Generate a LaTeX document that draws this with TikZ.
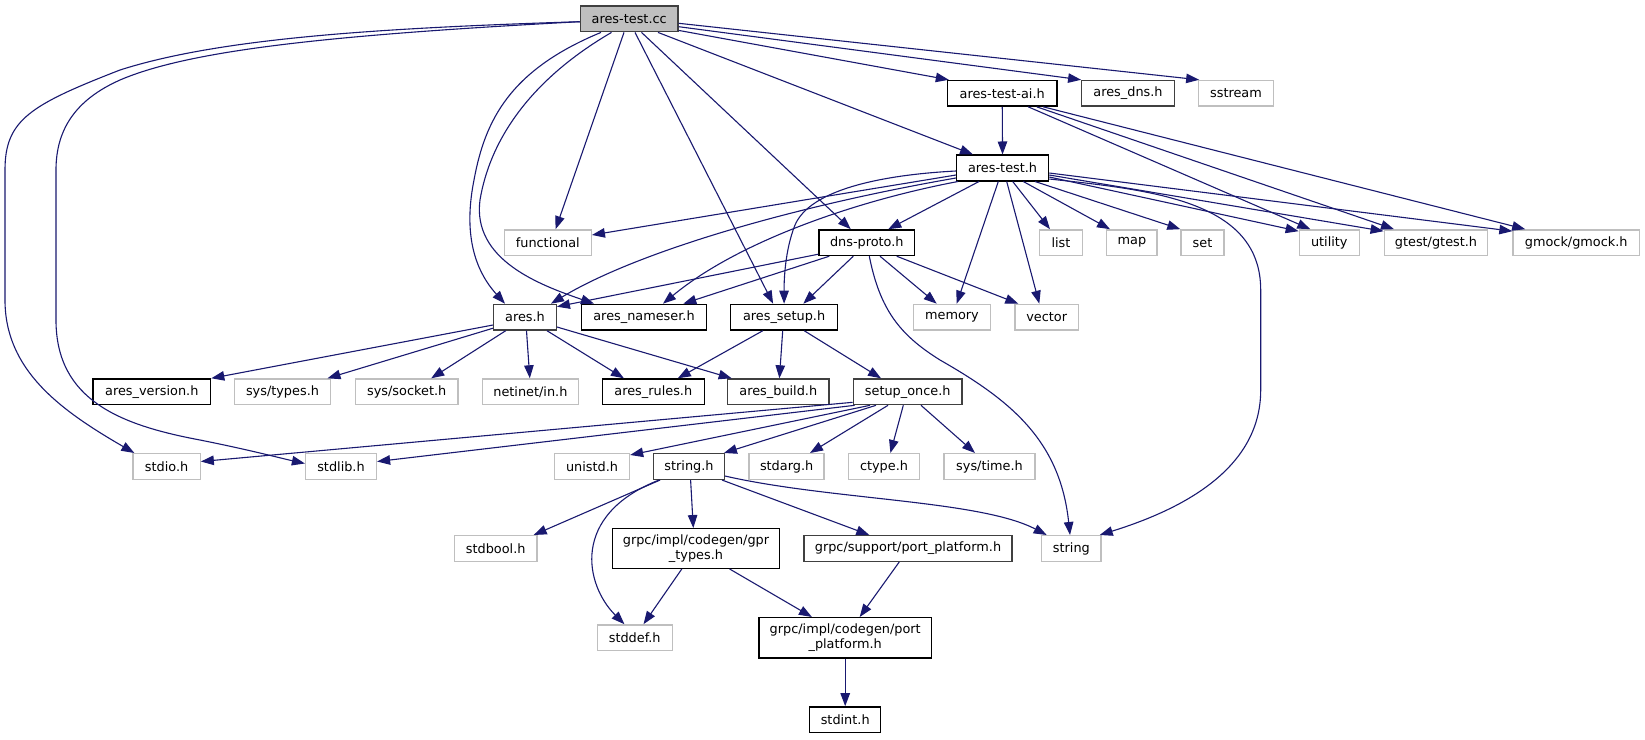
\documentclass[tikz,border=0pt]{standalone}
\usepackage{fontspec}
\setmainfont{DejaVu Sans}
\usetikzlibrary{arrows.meta}
\definecolor{edgeblue}{HTML}{191970}
\definecolor{dkgrey}{HTML}{404040}
\definecolor{ltgrey}{HTML}{BFBFBF}
\begin{document}
\begin{tikzpicture}[x=1pt,y=-1pt,
  nd/.style={draw, rectangle, inner sep=0pt, minimum height=25.7pt, line width=1.33pt, font=\fontsize{12.85pt}{15pt}\selectfont, text=black},
  blk/.style={nd, draw=black, fill=white},
  dk/.style={nd, draw=dkgrey, fill=white},
  gry/.style={nd, draw=ltgrey, fill=white},
  rootn/.style={nd, draw=dkgrey, fill=ltgrey},
  e/.style={draw=edgeblue, line width=1.1pt, -{Triangle[length=13pt,width=9.5pt]}},
]
\useasboundingbox[fill=white] (0,0) rectangle (1645,739);
% nodes
\node[rootn, minimum width=97.6pt] (root) at (629.2,18.9) {ares-test.cc};
\node[blk, minimum width=109.5pt] (aitest) at (1002.2,93.3) {ares-test-ai.h};
\node[dk, minimum width=92.5pt] (dnsh) at (1128,93.3) {ares\_dns.h};
\node[gry, minimum width=74.4pt] (sstream) at (1236,93.3) {sstream};
\node[blk, minimum width=92pt] (atest) at (1002.6,168) {ares-test.h};
\node[gry, minimum width=87pt] (functional) at (547.8,242.7) {functional};
\node[blk, minimum width=95.8pt] (dnsproto) at (866.8,242.7) {dns-proto.h};
\node[gry, minimum width=43.4pt] (list) at (1061,242.7) {list};
\node[gry, minimum width=50.3pt] (map) at (1131.9,242.7) {map};
\node[gry, minimum width=43pt] (set) at (1202.5,242.7) {set};
\node[gry, minimum width=60pt] (utility) at (1329.3,242.7) {utility};
\node[gry, minimum width=103.5pt] (gtest) at (1436,242.7) {gtest/gtest.h};
\node[gry, minimum width=126.4pt] (gmock) at (1576.2,242.7) {gmock/gmock.h};
\node[dk, minimum width=62.6pt] (aresh) at (525,317.2) {ares.h};
\node[blk, minimum width=125.6pt] (nameser) at (644,317.2) {ares\_nameser.h};
\node[blk, minimum width=106.6pt] (setup) at (784.1,317.2) {ares\_setup.h};
\node[gry, minimum width=77.4pt] (memory) at (952,317.2) {memory};
\node[gry, minimum width=63.3pt] (vector) at (1046.7,317.2) {vector};
\node[blk, minimum width=117.7pt] (version) at (151.8,391.8) {ares\_version.h};
\node[gry, minimum width=96.6pt] (systypes) at (282.5,391.8) {sys/types.h};
\node[gry, minimum width=102.8pt] (syssocket) at (406.7,391.8) {sys/socket.h};
\node[gry, minimum width=96.3pt] (netinet) at (530.4,391.8) {netinet/in.h};
\node[blk, minimum width=102pt] (rules) at (653.3,391.8) {ares\_rules.h};
\node[dk, minimum width=101.6pt] (build) at (778.3,391.8) {ares\_build.h};
\node[dk, minimum width=108.7pt] (setuponce) at (907.7,391.8) {setup\_once.h};
\node[gry, minimum width=67.2pt] (stdio) at (166.6,466.5) {stdio.h};
\node[gry, minimum width=70.9pt] (stdlib) at (341,466.5) {stdlib.h};
\node[gry, minimum width=75pt] (unistd) at (592,466.5) {unistd.h};
\node[dk, minimum width=70.5pt] (stringh) at (689,466.5) {string.h};
\node[gry, minimum width=75pt] (stdarg) at (786.6,466.5) {stdarg.h};
\node[gry, minimum width=71.5pt] (ctype) at (884,466.5) {ctype.h};
\node[gry, minimum width=91pt] (systime) at (989.5,466.5) {sys/time.h};
\node[gry, minimum width=82.6pt] (stdbool) at (495.7,548.5) {stdbool.h};
\node[blk, minimum width=166.9pt, minimum height=39.6pt, align=center] (gpr) at (696,548.5) {grpc/impl/codegen/gpr\\\_types.h};
\node[dk, minimum width=208.1pt] (support) at (908,548.5) {grpc/support/port\_platform.h};
\node[gry, minimum width=59.3pt] (string) at (1071.4,548.5) {string};
\node[gry, minimum width=75pt] (stddef) at (634.7,637.7) {stddef.h};
\node[blk, minimum width=172.2pt, minimum height=40.3pt, align=center] (portplat) at (845.2,637.8) {grpc/impl/codegen/port\\\_platform.h};
\node[blk, minimum width=71.2pt] (stdint) at (845.2,719.7) {stdint.h};
% edges from ares-test.cc
\draw[e] ([yshift=-2.8pt]root.west) .. controls (380,28) and (220,38) .. (120,70) .. controls (30,105) and (5,120) .. (5,170) -- (5,300) .. controls (5,370) and (60,410) .. ([xshift=2pt]stdio.north west);
\draw[e] ([yshift=-2.8pt]root.west) .. controls (330,35) and (190,50) .. (120,80) .. controls (75,100) and (56,130) .. (56,170) -- (56,320) .. controls (56,400) and (120,425) .. (200,440) .. controls (250,450) and (280,458) .. ([yshift=3pt]stdlib.west);
\draw[e] ([xshift=-28.2pt]root.south) .. controls (510,70) and (485,120) .. (474,180) .. controls (465,225) and (470,265) .. ([xshift=-20pt]aresh.north);
\draw[e] ([xshift=-17.7pt]root.south) .. controls (530,80) and (490,140) .. (480,200) .. controls (472,260) and (540,285) .. ([xshift=-50pt]nameser.north);
\draw[e] ([xshift=-5.2pt]root.south) -- ([xshift=7.8pt]functional.north);
\draw[e] ([xshift=5.8pt]root.south) -- ([xshift=-11pt]setup.north);
\draw[e] ([xshift=12.3pt]root.south) -- ([xshift=-16pt]dnsproto.north);
\draw[e] ([xshift=28.8pt]root.south) -- ([xshift=-29.6pt]atest.north);
\draw[e] ([yshift=2pt]root.south east) -- ([xshift=2pt]aitest.north west);
\draw[e] ([yshift=-7.8pt]root.east) -- (dnsh.north west);
\draw[e] ([yshift=-4.4pt]root.east) -- ([xshift=1pt]sstream.north west);
% edges from ares-test-ai.h
\draw[e] (aitest) -- (atest);
\draw[e] ([xshift=26pt]aitest.south) -- ([xshift=-19pt]utility.north);
\draw[e] ([xshift=34.5pt]aitest.south) -- ([xshift=-42pt]gtest.north);
\draw[e] ([xshift=41pt]aitest.south) -- ([xshift=-51pt]gmock.north);
% edges from ares-test.h
\draw[e] ([yshift=-7pt]atest.west) -- ([yshift=7.7pt]functional.east);
\draw[e] ([yshift=-10pt]atest.west) .. controls (800,205) and (640,250) .. ([xshift=-6pt]aresh.north east);
\draw[e] ([xshift=2pt]atest.south west) .. controls (860,200) and (740,240) .. ([xshift=19pt]nameser.north);
\draw[e] ([yshift=-3pt]atest.west) .. controls (880,175) and (810,190) .. (795,225) .. controls (785,250) and (784,280) .. (setup.north);
\draw[e] ([xshift=-23.6pt]atest.south) -- ([xshift=21.5pt]dnsproto.north);
\draw[e] ([xshift=-4.3pt]atest.south) -- ([xshift=4.7pt]memory.north);
\draw[e] ([xshift=4.1pt]atest.south) -- ([xshift=-7.4pt]vector.north);
\draw[e] ([xshift=10.1pt]atest.south) -- ([xshift=-11pt]list.north);
\draw[e] ([xshift=20.7pt]atest.south) -- ([xshift=-21.9pt]map.north);
\draw[e] ([xshift=32.4pt]atest.south) -- (set.north west);
\draw[e] ([yshift=-9pt]atest.east) -- ([yshift=-2pt]utility.north west);
\draw[e] ([yshift=-7pt]atest.east) -- ([yshift=-2pt]gtest.north west);
\draw[e] ([yshift=-5pt]atest.east) -- ([yshift=-2pt]gmock.north west);
\draw[e] ([yshift=-11pt]atest.east) .. controls (1150,190) and (1260.7,200) .. (1260.7,290) -- (1260.7,390) .. controls (1260.7,470) and (1180,510) .. ([xshift=-2pt]string.north east);
% edges from dns-proto.h
\draw[e] ([yshift=2pt]dnsproto.south west) -- ([yshift=-3pt]aresh.north east);
\draw[e] ([xshift=11pt]dnsproto.south west) -- ([xshift=39.3pt]nameser.north);
\draw[e] ([xshift=-13.5pt]dnsproto.south) -- ([xshift=19.2pt]setup.north);
\draw[e] ([xshift=13.2pt]dnsproto.south) -- ([xshift=-15.3pt]memory.north);
\draw[e] ([xshift=29.9pt]dnsproto.south) -- ([xshift=-28.4pt]vector.north);
\draw[e] ([xshift=2.5pt]dnsproto.south) .. controls (880,310) and (900,335) .. (940,360) .. controls (1010,400) and (1060,440) .. ([xshift=-1.4pt]string.north);
% edges from ares.h
\draw[e] ([yshift=-7.8pt]aresh.west) -- (version.north east);
\draw[e] ([yshift=-11pt]aresh.west) -- ([xshift=-4pt]systypes.north east);
\draw[e] ([xshift=-19.3pt]aresh.south) -- ([xshift=24.5pt]syssocket.north);
\draw[e] ([xshift=1.5pt]aresh.south) -- ([xshift=-0.6pt]netinet.north);
\draw[e] ([xshift=22pt]aresh.south) -- ([xshift=-29.4pt]rules.north);
\draw[e] ([yshift=-9.8pt]aresh.east) -- ([xshift=-46.6pt]build.north);
% edges from ares_setup.h
\draw[e] ([xshift=-21.3pt]setup.south) -- ([xshift=24.5pt]rules.north);
\draw[e] ([xshift=-1.4pt]setup.south) -- ([xshift=1.1pt]build.north);
\draw[e] ([xshift=20.1pt]setup.south) -- ([xshift=-26.7pt]setuponce.north);
% edges from setup_once.h
\draw[e] ([yshift=3pt]setuponce.south west) -- ([yshift=5pt]stdio.east);
\draw[e] ([xshift=2pt]setuponce.south west) -- ([yshift=5pt]stdlib.east);
\draw[e] ([xshift=-37.7pt]setuponce.south) -- ([yshift=-2pt]unistd.north east);
\draw[e] ([xshift=-31.7pt]setuponce.south) -- ([xshift=-1pt]stringh.north east);
\draw[e] ([xshift=-19.7pt]setuponce.south) -- ([xshift=23.4pt]stdarg.north);
\draw[e] ([xshift=-4.4pt]setuponce.south) -- ([xshift=6.4pt]ctype.north);
\draw[e] ([xshift=13.3pt]setuponce.south) -- ([xshift=-14.5pt]systime.north);
% edges from string.h
\draw[e] ([xshift=7pt]stringh.south west) -- ([xshift=-4pt]stdbool.north east);
\draw[e] ([xshift=6pt]stringh.south west) .. controls (570,515) and (585,585) .. ([xshift=-10.3pt]stddef.north);
\draw[e] ([xshift=1.6pt]stringh.south) -- ([xshift=-2.7pt]gpr.north);
\draw[e] ([xshift=33pt]stringh.south) -- ([xshift=-38.7pt]support.north);
\draw[e] ([yshift=-9.5pt]stringh.east) .. controls (830,500) and (980,500) .. ([xshift=5.6pt]string.north west);
% remaining
\draw[e] ([xshift=-14.2pt]gpr.south) -- ([xshift=8.8pt]stddef.north);
\draw[e] ([xshift=33.6pt]gpr.south) -- ([xshift=-33.3pt]portplat.north);
\draw[e] ([xshift=-8.8pt]support.south) -- ([xshift=14.5pt]portplat.north);
\draw[e] (portplat) -- (stdint);
\end{tikzpicture}
\end{document}
